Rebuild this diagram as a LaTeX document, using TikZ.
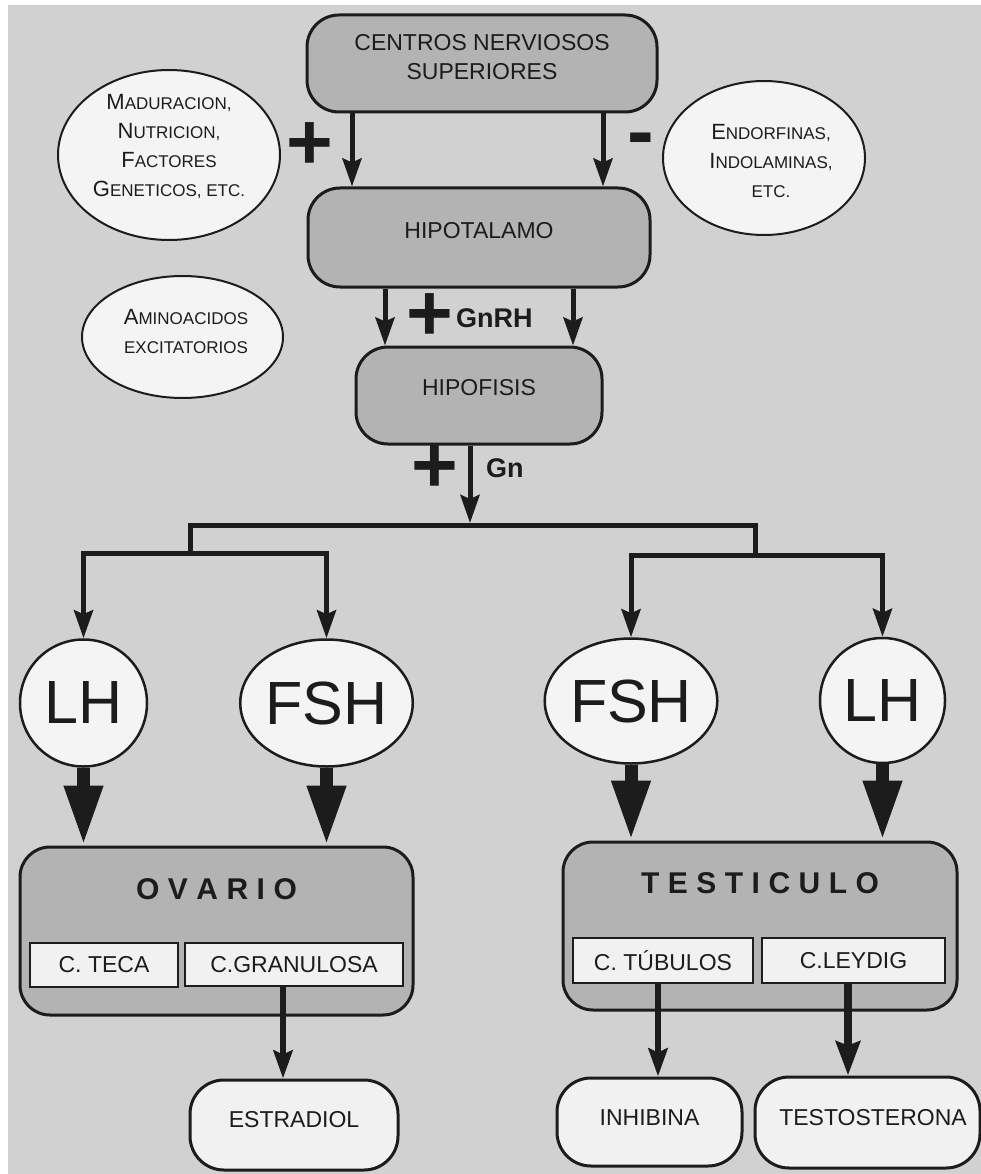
\documentclass[tikz,border=0pt]{standalone}
\usepackage{fontspec}
\setmainfont{Liberation Sans}
\usetikzlibrary{arrows.meta,shapes.geometric}
\definecolor{paper}{HTML}{D1D1D1}
\definecolor{organgray}{HTML}{B3B3B3}
\definecolor{cellfill}{HTML}{F1F1F1}
\definecolor{ovalfill}{HTML}{F4F4F4}
\definecolor{ink}{HTML}{1C1C1C}
% initial capital of a small-caps word
\newcommand\Ini[1]{{\fontsize{22}{29}\selectfont #1}}
% wide tracking for the organ titles
\newcommand\trk{\hspace{8.5pt}}
\begin{document}
\begin{tikzpicture}[x=1pt,y=-1pt,
  organ/.style={draw=ink,line width=3pt,fill=organgray,rounded corners=32pt,inner sep=0pt},
  cell/.style={draw=ink,line width=2.2pt,fill=cellfill,inner sep=0pt,text=ink,
    font=\fontsize{23}{27}\selectfont},
  product/.style={draw=ink,line width=3pt,fill=cellfill,rounded corners=34pt,inner sep=0pt},
  factor/.style={ellipse,draw=ink,line width=2pt,fill=ovalfill,inner sep=0pt},
  hormone/.style={ellipse,draw=ink,line width=2.5pt,fill=ovalfill,inner sep=0pt,text=ink,
    font=\fontsize{61}{61}\selectfont},
  boxtext/.style={font=\fontsize{23}{29}\selectfont,align=center,text=ink,inner sep=0pt},
  smallcaps/.style={font=\fontsize{17}{29}\selectfont,align=center,text=ink,inner sep=0pt},
  title/.style={font=\fontsize{30}{30}\selectfont\bfseries,text=ink,inner sep=0pt},
  sign/.style={font=\fontsize{80}{80}\selectfont\bfseries,inner sep=0pt,text=ink},
  tag/.style={font=\fontsize{27}{27}\selectfont\bfseries,inner sep=0pt,text=ink,anchor=west},
  wire/.style={draw=ink,line width=5pt,line join=miter},
  link/.style={wire,-{Stealth[length=28pt,width=19pt,inset=4pt]}},
  heavy/.style={draw=ink,line width=13pt,-{Triangle[length=60pt,width=36pt]}},
]
\useasboundingbox (0,0) rectangle (981,1174);
\fill[paper] (8,5) rectangle (981,1174);

% central axis
\node[organ,minimum width=350pt,minimum height=97pt,
  label={[boxtext,yshift=6pt]center:{CENTROS NERVIOSOS\\SUPERIORES}}] (cns) at (482,63.5) {};
\node[organ,minimum width=342pt,minimum height=99pt,
  label={[boxtext,yshift=6.5pt]center:HIPOTALAMO}] (hyp) at (479,237.5) {};
\node[organ,minimum width=246pt,minimum height=97pt,
  label={[boxtext,yshift=7.5pt]center:HIPOFISIS}] (hyf) at (479,395.5) {};

% modulating factors
\node[factor,minimum width=222pt,minimum height=170pt,
  label={[smallcaps,yshift=8.5pt]center:{\Ini{M}ADURACION,\\\Ini{N}UTRICION,\\\Ini{F}ACTORES\\\Ini{G}ENETICOS, ETC.}}]
  (mad) at (169,155) {};
\node[factor,minimum width=202pt,minimum height=154pt,
  label={[smallcaps,xshift=7pt,yshift=-3.5pt]center:{\Ini{E}NDORFINAS,\\\Ini{I}NDOLAMINAS,\\ETC.}}]
  (endo) at (764,158) {};
\node[factor,minimum width=201pt,minimum height=122pt,
  label={[smallcaps,xshift=3.5pt,yshift=5.5pt]center:{\Ini{A}MINOACIDOS\\EXCITATORIOS}}]
  (amino) at (182.5,337) {};

\node[sign] (pA) at (310,146) {+};
\node[sign] (mA) at (641,146) {-};
\node[sign] (pB) at (430,317) {+};
\node[tag] (gnrh) at (456,318) {GnRH};
\node[sign] (pC) at (435,469) {+};
\node[tag] (gn) at (486,468) {Gn};

% gonadotropins
\node[hormone,minimum width=127pt,minimum height=127pt] (lhL) at (83.5,703) {LH};
\node[hormone,minimum width=143pt,minimum height=127pt] (fshL) at (326.5,703) {FSH};
\node[hormone,minimum width=142pt,minimum height=125pt] (fshR) at (631,701) {FSH};
\node[hormone,minimum width=125pt,minimum height=125pt] (lhR) at (882.5,700.5) {LH};

% gonads
\node[organ,rounded corners=30pt,minimum width=393pt,minimum height=168pt,
  label={[title,yshift=42pt]center:{O\trk V\trk A\trk R\trk I\trk O}}] (ov) at (216.5,931) {};
\node[cell,minimum width=148pt,minimum height=44pt] (teca) at (104,965) {C. TECA};
\node[cell,minimum width=218pt,minimum height=43pt] (gran) at (294,964.5) {C.GRANULOSA};

\node[organ,rounded corners=30pt,minimum width=394pt,minimum height=168pt,
  label={[title,yshift=43pt]center:{T\trk E\trk S\trk T\trk I\trk C\trk U\trk L\trk O}}] (tes) at (760,926) {};
\node[cell,minimum width=180pt,minimum height=45pt] (tub) at (663,960.5) {C. TÚBULOS};
\node[cell,minimum width=183pt,minimum height=45pt] (ley) at (853.5,960.5) {C.LEYDIG};

% secreted products
\node[product,minimum width=208pt,minimum height=90pt,
  label={[boxtext,yshift=5pt]center:ESTRADIOL}] (estr) at (294,1125) {};
\node[product,minimum width=185pt,minimum height=88pt,
  label={[boxtext,yshift=4pt]center:INHIBINA}] (inh) at (649.5,1122) {};
\node[product,minimum width=225pt,minimum height=91pt,
  label={[boxtext,xshift=5.5pt,yshift=4.5pt]center:TESTOSTERONA}] (testo) at (867.5,1122.5) {};

% connector columns and junctions
\coordinate (cA) at (352,0);
\coordinate (cB) at (603,0);
\coordinate (gA) at (385,0);
\coordinate (gB) at (573,0);
\coordinate (jC) at (470,523);
\coordinate (jL) at (190,525);
\coordinate (jR) at (755,525);
\coordinate (bL) at (190,553);
\coordinate (bR) at (755,555);

\draw[link] (cns.south -| cA) -- (hyp.north -| cA);
\draw[link] (cns.south -| cB) -- (hyp.north -| cB);
\draw[link] (hyp.south -| gA) -- (hyf.north -| gA);
\draw[link] (hyp.south -| gB) -- (hyf.north -| gB);
\draw[link] (hyf.south -| jC) -- (jC);

\draw[wire] (bL) -- (jL) -- (jR) -- (bR);
\draw[link] (bL) -| (lhL.north);
\draw[link] (bL) -| (fshL.north);
\draw[link] (bR) -| (fshR.north);
\draw[link] (bR) -| (lhR.north);

\draw[heavy] (lhL.south) -- (lhL.south |- ov.north);
\draw[heavy] (fshL.south) -- (fshL.south |- ov.north);
\draw[heavy] (fshR.south) -- (fshR.south |- tes.north);
\draw[heavy] (lhR.south) -- (lhR.south |- tes.north);

\draw[link,line width=6pt] ([xshift=-11pt]gran.south) -- ([xshift=-11pt]gran.south |- estr.north);
\draw[link,line width=6pt] ([xshift=-5pt]tub.south) -- ([xshift=-5pt]tub.south |- inh.north);
\draw[link,line width=8.5pt,-{Stealth[length=34pt,width=24pt,inset=4pt]}]
  ([xshift=-5.5pt]ley.south) -- ([xshift=-5.5pt]ley.south |- testo.north);
\end{tikzpicture}
\end{document}
